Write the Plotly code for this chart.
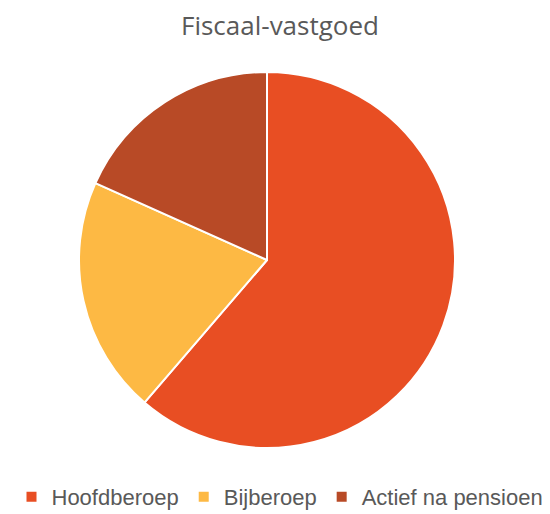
import plotly.graph_objects as go

labels = ["Hoofdberoep", "Bijberoep", "Actief na pensioen"]
values = [61.3, 20.4, 18.3]
colors = ["#E84E23", "#FDB944", "#B84A26"]

W, H = 550, 514
off = 8  # page body margin
cx, cy, r = 267 - off, 260 - off, 188

fig = go.Figure(go.Pie(
    labels=labels, values=values, sort=False, direction="clockwise", rotation=0,
    marker=dict(colors=colors, line=dict(color="white", width=2)),
    textinfo="none", hoverinfo="label+percent",
    domain=dict(x=[(cx - r) / W, (cx + r) / W], y=[(H - cy - r) / H, (H - cy + r) / H]),
))
fig.update_layout(
    width=W, height=H,
    margin=dict(l=0, r=0, t=0, b=0, autoexpand=False),
    paper_bgcolor="white", plot_bgcolor="white",
    title=dict(text="Fiscaal-vastgoed", x=(280 - off) / W, xanchor="center", y=1 - (26 - off) / H,
               yanchor="middle", yref="container", xref="container",
               font=dict(family="Open Sans, sans-serif", size=26, color="#595959")),
    legend=dict(orientation="h", x=(280 - off) / W, xanchor="center", y=1 - (497 - off) / H,
                yanchor="middle", yref="container", xref="container",
                font=dict(family="Liberation Sans, Arial, sans-serif", size=22, color="#595959"),
                itemwidth=30, traceorder="normal"),
)
fig.write_html("out.html")
